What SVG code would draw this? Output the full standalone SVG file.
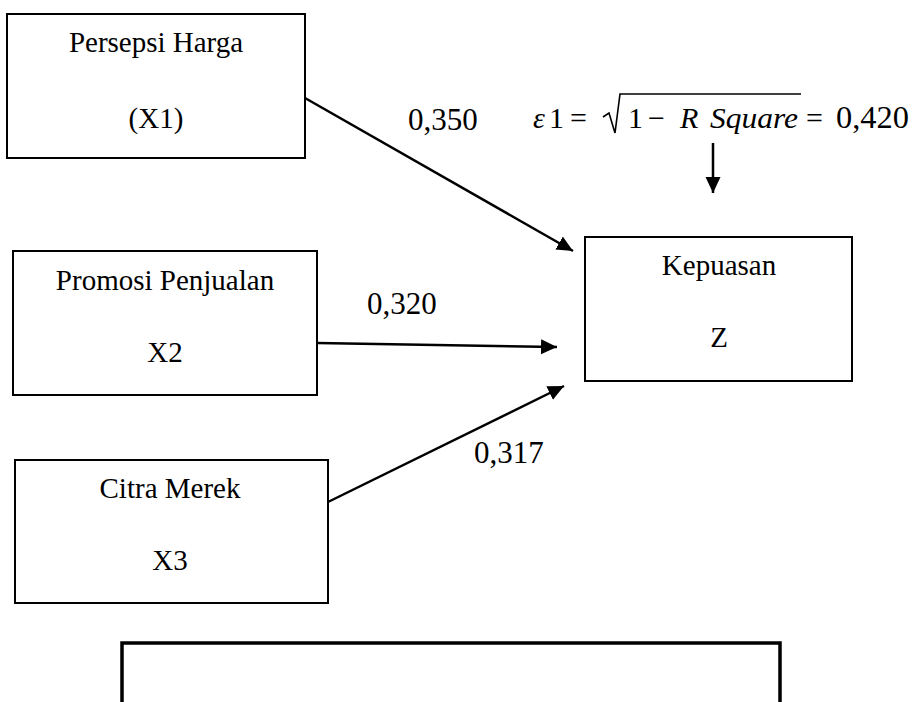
<svg xmlns="http://www.w3.org/2000/svg" width="912" height="702" viewBox="0 0 912 702">
<style>
.box{fill:#fff;stroke:#000;stroke-width:2}
.t{font-family:"Liberation Serif","Times New Roman",serif;font-size:29px;fill:#000;text-anchor:middle}
.lbl{font-family:"Liberation Serif","Times New Roman",serif;font-size:31px;fill:#000}
.m{font-family:"Liberation Serif","Times New Roman",serif;font-size:30px;fill:#000}
.it{font-style:italic}
.conn{stroke:#000;stroke-width:2.5;fill:none}
</style>
<defs>
<marker id="ah" markerUnits="userSpaceOnUse" markerWidth="17" markerHeight="16" refX="16" refY="8" orient="auto">
<path d="M0,0.5 L16,8 L0,15.5 z" fill="#000"/>
</marker>
</defs>
<rect width="912" height="702" fill="#fff"/>
<g id="node-x1">
<rect class="box" x="7" y="14" width="298" height="144"/>
<text class="t" x="156" y="52">Persepsi Harga</text>
<text class="t" x="156" y="128">(X1)</text>
</g>
<g id="node-x2">
<rect class="box" x="13" y="251" width="304" height="144"/>
<text class="t" x="165" y="290">Promosi Penjualan</text>
<text class="t" x="165" y="362">X2</text>
</g>
<g id="node-x3">
<rect class="box" x="15" y="460" width="313" height="143"/>
<text class="t" x="170" y="498">Citra Merek</text>
<text class="t" x="170" y="570">X3</text>
</g>
<g id="node-z">
<rect class="box" x="585" y="237" width="267" height="144"/>
<text class="t" x="719" y="275">Kepuasan</text>
<text class="t" x="719" y="347">Z</text>
</g>
<g id="frame">
<path d="M122,706 V643 H780 V706" fill="none" stroke="#000" stroke-width="3.5"/>
</g>
<g id="connectors">
<line class="conn" x1="305" y1="98" x2="573" y2="251" marker-end="url(#ah)"/>
<line class="conn" x1="317" y1="343" x2="557" y2="347" marker-end="url(#ah)"/>
<line class="conn" x1="328" y1="502" x2="564" y2="386" marker-end="url(#ah)"/>
<line class="conn" x1="713" y1="143" x2="713" y2="193" marker-end="url(#ah)"/>
</g>
<g id="labels">
<text class="lbl" x="408" y="130">0,350</text>
<text class="lbl" x="367" y="314">0,320</text>
<text class="lbl" x="474" y="463">0,317</text>
</g>
<g id="formula">
<text class="m it" x="533" y="128">ε</text>
<text class="m" x="549" y="128">1</text>
<text class="m" x="570" y="128">=</text>
<path d="M603,117 L609,113 L615,133 L620,94 H801" fill="none" stroke="#000" stroke-width="1.6" stroke-linejoin="miter"/>
<text class="m" x="628" y="128">1</text>
<text class="m" x="648" y="128">−</text>
<text class="m it" x="680" y="128">R</text>
<text class="m it" x="710" y="128" textLength="88" lengthAdjust="spacingAndGlyphs">Square</text>
<text class="m" x="806" y="128">=</text>
<text class="lbl" x="836" y="128" textLength="73" lengthAdjust="spacingAndGlyphs">0,420</text>
</g>
</svg>
